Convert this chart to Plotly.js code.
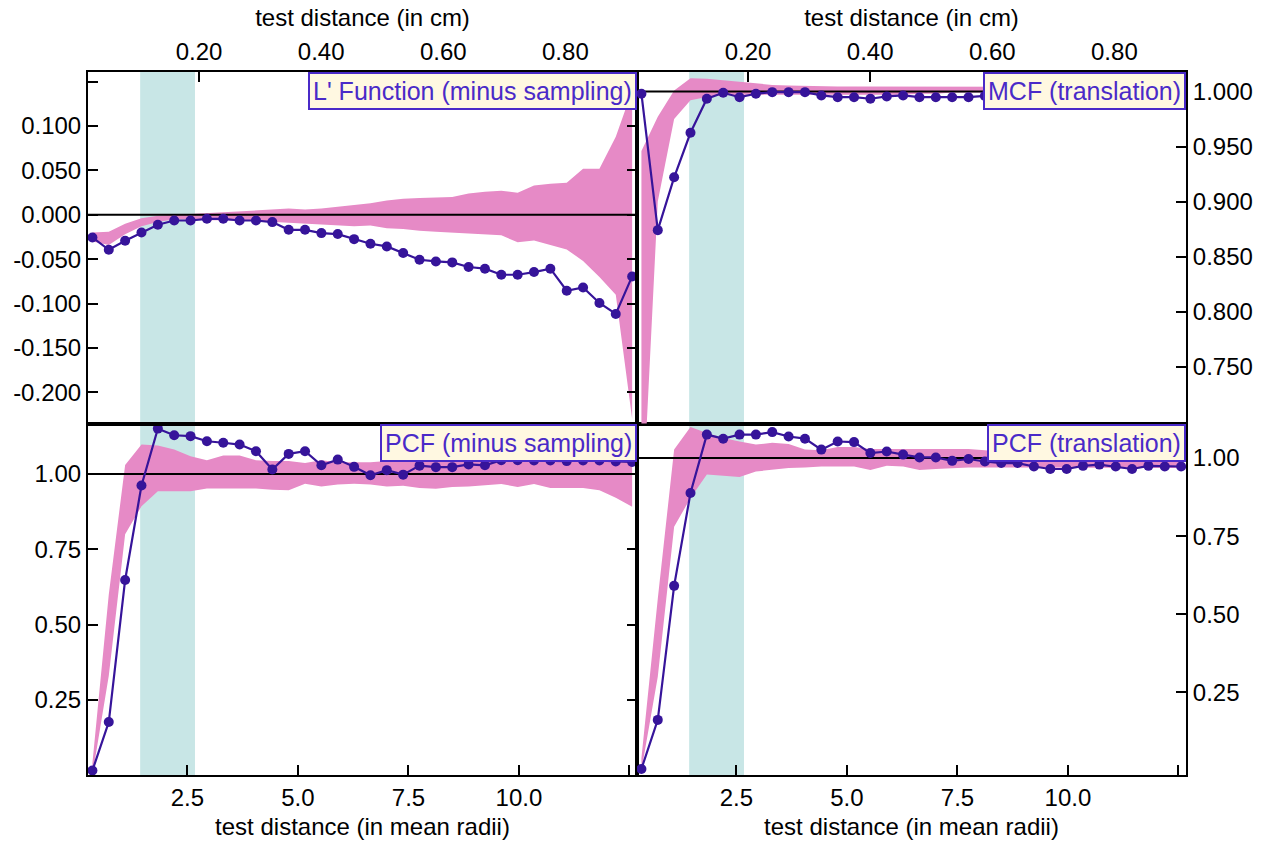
<!DOCTYPE html>
<html>
<head>
<meta charset="utf-8">
<script src="https://cdn.plot.ly/plotly-3.0.1.min.js"></script>
<style>html,body{margin:0;padding:0;background:#fff;}#chart{width:1270px;height:845px;}</style>
</head>
<body>
<div id="chart"></div>
<script>
// ---- data (x in mean radii) ----
const X_MR = [0.35,0.72,1.09,1.46,1.83,2.20,2.57,2.94,3.31,3.68,4.05,4.42,4.79,5.16,5.53,5.90,6.27,6.64,7.01,7.38,7.75,8.12,8.49,8.86,9.23,9.60,9.97,10.34,10.71,11.08,11.45,11.82,12.19,12.56];

// L' Function (minus sampling)
const LP     = [-0.0255,-0.0394,-0.0292,-0.0199,-0.0112,-0.0064,-0.0064,-0.0045,-0.0045,-0.0064,-0.0064,-0.0082,-0.0169,-0.0169,-0.0206,-0.0217,-0.0274,-0.0326,-0.0356,-0.0431,-0.0506,-0.0525,-0.0536,-0.0588,-0.0607,-0.0675,-0.0675,-0.0645,-0.0607,-0.0855,-0.0818,-0.0993,-0.1117,-0.0694];
const LP_UP  = [-0.020,-0.019,-0.010,-0.004,-0.001,0.0005,0.001,0.002,0.003,0.004,0.005,0.006,0.007,0.006,0.007,0.009,0.011,0.013,0.016,0.018,0.019,0.0195,0.020,0.024,0.026,0.027,0.025,0.033,0.035,0.036,0.052,0.052,0.088,0.14];
const LP_LO  = [-0.030,-0.034,-0.022,-0.013,-0.008,-0.005,-0.005,-0.006,-0.006,-0.007,-0.007,-0.008,-0.009,-0.010,-0.011,-0.012,-0.013,-0.012,-0.015,-0.016,-0.018,-0.019,-0.020,-0.021,-0.022,-0.023,-0.031,-0.029,-0.034,-0.039,-0.052,-0.070,-0.090,-0.23];

// MCF (translation)
const MCF    = [0.998,0.874,0.922,0.9625,0.9934,0.9988,0.9948,0.9979,0.9994,0.9994,0.9994,0.9964,0.9948,0.9948,0.9934,0.9955,0.9964,0.9948,0.9948,0.9948,0.9948,0.996,0.996,0.996,0.996,0.996,0.996,0.996,0.996,0.996,0.996,0.996,0.996];
const MCF_UP = [0.946,0.977,1.001,1.012,1.0115,1.010,1.0085,1.007,1.006,1.0055,1.005,1.005,1.0045,1.0045,1.0045,1.0045,1.0045,1.004,1.004,1.004,1.004,1.004,1.004,1.004,1.004,1.004,1.004,1.004,1.004,1.004,1.004,1.004,1.004,1.004];
const MCF_LO = [0.600,0.900,0.975,0.992,0.995,0.9964,0.997,0.997,0.997,0.997,0.997,0.997,0.997,0.997,0.997,0.997,0.997,0.998,0.998,0.999,0.999,0.999,0.999,0.999,0.999,0.999,0.999,0.999,0.999,0.999,0.999,0.999,0.999,0.999];

// PCF (minus sampling)
const PCFM    = [0.015,0.176,0.648,0.962,1.151,1.129,1.126,1.109,1.104,1.098,1.076,1.015,1.067,1.076,1.029,1.048,1.024,0.996,1.013,0.998,1.028,1.023,1.023,1.032,1.029,1.046,1.046,1.045,1.045,1.043,1.045,1.045,1.042,1.040];
const PCFM_UP = [0.04,0.60,1.03,1.098,1.095,1.082,1.059,1.046,1.062,1.062,1.046,1.043,1.043,1.037,1.046,1.039,1.039,1.039,1.043,1.043,1.045,1.045,1.048,1.05,1.05,1.05,1.05,1.05,1.05,1.05,1.05,1.05,1.05,1.05];
const PCFM_LO = [0.0,0.33,0.80,0.893,0.943,0.943,0.943,0.952,0.952,0.954,0.952,0.948,0.946,0.968,0.959,0.965,0.968,0.965,0.959,0.961,0.954,0.951,0.957,0.959,0.963,0.967,0.957,0.967,0.954,0.954,0.954,0.946,0.921,0.891];

// PCF (translation)
const PCFT    = [0.005,0.162,0.591,0.888,1.075,1.062,1.075,1.075,1.083,1.069,1.062,1.027,1.053,1.051,1.016,1.021,1.011,1.002,1.002,0.991,0.997,0.989,0.984,0.984,0.973,0.965,0.965,0.975,0.979,0.973,0.965,0.975,0.973,0.973];
const PCFT_UP = [0.04,0.55,1.027,1.099,1.080,1.064,1.053,1.043,1.049,1.045,1.027,1.025,1.035,1.035,1.029,1.029,1.029,1.029,1.029,1.029,1.029,1.025,1.02,1.02,1.02,1.02,1.02,1.02,1.02,1.02,1.02,1.02,1.02,1.02];
const PCFT_LO = [0.0,0.30,0.78,0.872,0.947,0.943,0.939,0.957,0.962,0.968,0.970,0.973,0.973,0.973,0.962,0.975,0.973,0.962,0.965,0.968,0.970,0.970,0.970,0.968,0.968,0.968,0.968,0.968,0.968,0.968,0.968,0.968,0.968,0.968];

// highlighted interval (mean radii) and axis settings
const CYAN_BAND = [1.43, 2.67];
const CM_PER_RADIUS = 0.0724;
const X_RANGE = [0.25, 12.67];
const X_TICKS = [2.5, 5.0, 7.5, 10.0, 12.5];
const X_TICKTEXT = ['2.5', '5.0', '7.5', '10.0', ''];
const CM_TICKS = [0.2, 0.4, 0.6, 0.8];
const CM_TICKTEXT = ['0.20', '0.40', '0.60', '0.80'];
const LP_TICKS = [-0.2, -0.15, -0.1, -0.05, 0, 0.05, 0.1, 0.15];
const LP_TICKTEXT = ['-0.200', '-0.150', '-0.100', '-0.050', '0.000', '0.050', '0.100', ''];
const MCF_TICKS = [0.75, 0.8, 0.85, 0.9, 0.95, 1.0];
const PCF_TICKS = [0.25, 0.5, 0.75, 1.0];
const PANEL_TITLES = ["L' Function (minus sampling)", 'MCF (translation)', 'PCF (minus sampling)', 'PCF (translation)'];
const REF_LEVELS = [0, 1, 1, 1];

const FONT = 'Liberation Sans, Arial, Helvetica, sans-serif';
const PINK = '#e68ac6';
const CYAN = '#c8e6e6';
const PURPLE = '#36149a';
const BOXTEXT = '#4a2ac8';

const panels = [
  {xa:'x3', ya:'y3', y:LP,   up:LP_UP,   lo:LP_LO},
  {xa:'x4', ya:'y4', y:MCF,  up:MCF_UP,  lo:MCF_LO},
  {xa:'x',  ya:'y',  y:PCFM, up:PCFM_UP, lo:PCFM_LO},
  {xa:'x2', ya:'y2', y:PCFT, up:PCFT_UP, lo:PCFT_LO}
];

const traces = [];
panels.forEach((p, i) => {
  traces.push({x:X_MR, y:p.lo, xaxis:p.xa, yaxis:p.ya, mode:'lines', line:{width:0, color:PINK}, hoverinfo:'skip'});
  traces.push({x:X_MR, y:p.up, xaxis:p.xa, yaxis:p.ya, mode:'lines', line:{width:0, color:PINK}, fill:'tonexty', fillcolor:PINK, hoverinfo:'skip'});
  traces.push({x:X_RANGE, y:[REF_LEVELS[i], REF_LEVELS[i]], xaxis:p.xa, yaxis:p.ya, mode:'lines', line:{width:2, color:'black'}, hoverinfo:'skip'});
  traces.push({x:X_MR.slice(0, p.y.length), y:p.y, xaxis:p.xa, yaxis:p.ya, mode:'lines+markers',
               line:{width:2.2, color:PURPLE}, marker:{size:10, color:PURPLE}});
});
// helper (invisible) traces to carry the top cm axes
const X_CM = X_MR.map(v => v * CM_PER_RADIUS);
traces.push({x:X_CM, y:LP, xaxis:'x5', yaxis:'y3', mode:'markers', marker:{opacity:0}, hoverinfo:'skip'});
traces.push({x:X_CM, y:MCF.concat([]), xaxis:'x6', yaxis:'y4', mode:'markers', marker:{opacity:0}, hoverinfo:'skip'});

const axisBase = {showline:true, linewidth:2, linecolor:'black', showgrid:false, zeroline:false,
                  ticks:'inside', ticklen:10, tickwidth:2, tickcolor:'black', automargin:false,
                  tickfont:{family:FONT, size:24, color:'black'}};
const titleFont = {family:FONT, size:24, color:'black'};
const CM_RANGE = X_RANGE.map(v => v * CM_PER_RADIUS);

const layout = {
  width:1270, height:845,
  margin:{l:88, r:84, t:72, b:70},
  paper_bgcolor:'white', plot_bgcolor:'white',
  showlegend:false,
  font:{family:FONT, size:24, color:'black'},
  xaxis: Object.assign({}, axisBase, {domain:[0,0.5], anchor:'y', range:X_RANGE, tickmode:'array', tickvals:X_TICKS, ticktext:X_TICKTEXT, mirror:true,
          title:{text:'test distance (in mean radii)', font:titleFont, standoff:8}}),
  xaxis2: Object.assign({}, axisBase, {domain:[0.5,1], anchor:'y2', range:X_RANGE, tickmode:'array', tickvals:X_TICKS, ticktext:X_TICKTEXT, mirror:true,
          title:{text:'test distance (in mean radii)', font:titleFont, standoff:8}}),
  xaxis3: Object.assign({}, axisBase, {domain:[0,0.5], anchor:'y3', range:X_RANGE, ticks:'', showticklabels:false, mirror:true}),
  xaxis4: Object.assign({}, axisBase, {domain:[0.5,1], anchor:'y4', range:X_RANGE, ticks:'', showticklabels:false, mirror:true}),
  xaxis5: Object.assign({}, axisBase, {overlaying:'x3', anchor:'y3', side:'top', range:CM_RANGE, tickmode:'array', tickvals:CM_TICKS, ticktext:CM_TICKTEXT,
          title:{text:'test distance (in cm)', font:titleFont, standoff:5}}),
  xaxis6: Object.assign({}, axisBase, {overlaying:'x4', anchor:'y4', side:'top', range:CM_RANGE, tickmode:'array', tickvals:CM_TICKS, ticktext:CM_TICKTEXT,
          title:{text:'test distance (in cm)', font:titleFont, standoff:5}}),
  yaxis: Object.assign({}, axisBase, {domain:[0,0.5], anchor:'x', range:[0,1.168], tickmode:'array', tickvals:PCF_TICKS, tickformat:'.2f', mirror:'ticks'}),
  yaxis2: Object.assign({}, axisBase, {domain:[0,0.5], anchor:'x2', side:'right', range:[-0.0144,1.1106], tickmode:'array', tickvals:PCF_TICKS, tickformat:'.2f', mirror:true}),
  yaxis3: Object.assign({}, axisBase, {domain:[0.5,1], anchor:'x3', range:[-0.2351,0.1609], tickmode:'array', tickvals:LP_TICKS, ticktext:LP_TICKTEXT, mirror:'ticks'}),
  yaxis4: Object.assign({}, axisBase, {domain:[0.5,1], anchor:'x4', side:'right', range:[0.6983,1.0177], tickmode:'array', tickvals:MCF_TICKS, tickformat:'.3f', mirror:true}),
  shapes: panels.map(p => ({type:'rect', xref:p.xa, yref:p.ya + ' domain', x0:CYAN_BAND[0], x1:CYAN_BAND[1], y0:0, y1:1,
          fillcolor:CYAN, line:{width:0}, layer:'below'})),
  annotations: panels.map((p, i) => ({xref:p.xa + ' domain', yref:p.ya + ' domain', x:1, y:1, xanchor:'right', yanchor:'top',
          text:PANEL_TITLES[i], showarrow:false, bgcolor:'#fff8e1', bordercolor:BOXTEXT, borderwidth:2, borderpad:3,
          font:{family:FONT, size:25, color:BOXTEXT}}))
};

Plotly.newPlot('chart', traces, layout, {displayModeBar:false, staticPlot:true});
</script>
</body>
</html>
